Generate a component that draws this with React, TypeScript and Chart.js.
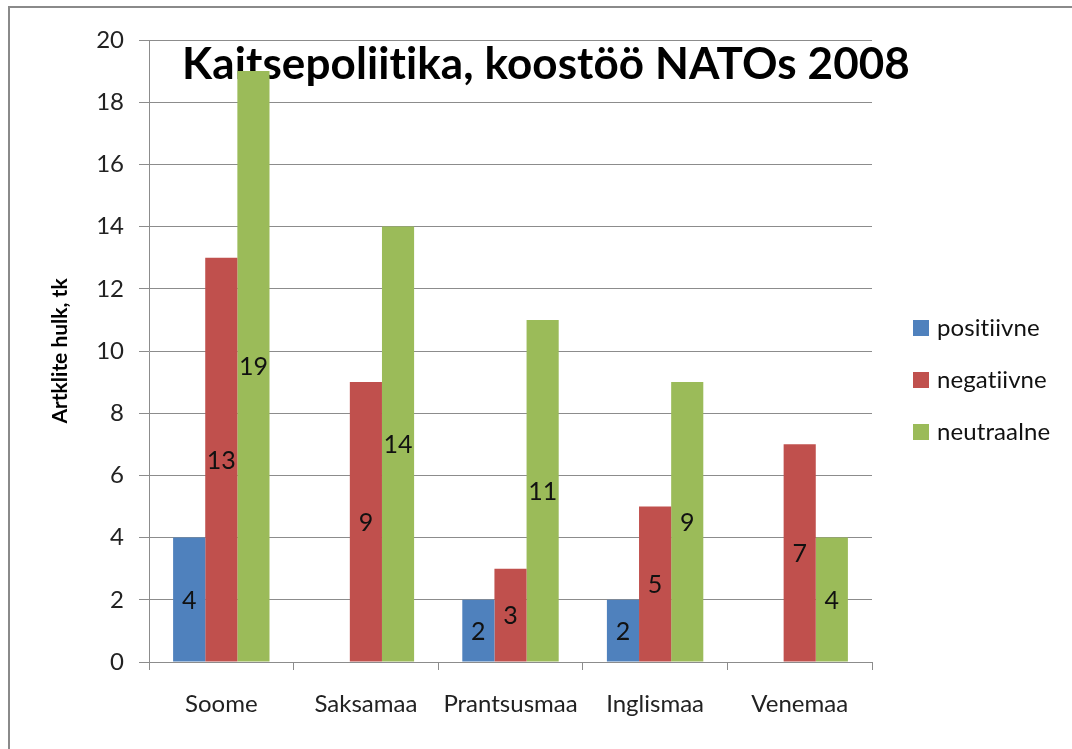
import React, { useEffect, useRef } from "react";
import { Chart, registerables } from "chart.js";

Chart.register(...registerables);

const categories = ["Soome", "Saksamaa", "Prantsusmaa", "Inglismaa", "Venemaa"];
const positiivne = [4, 0, 2, 2, 0];
const negatiivne = [13, 9, 3, 5, 7];
const neutraalne = [19, 14, 11, 9, 4];
const seriesNames = ["positiivne", "negatiivne", "neutraalne"];
const seriesColors = ["#4F81BD", "#C0504D", "#9BBB59"];
const yMin = 0;
const yMax = 20;
const yStep = 2;
const titleText = "Kaitsepoliitika, koostöö NATOs 2008";
const yTitle = "Artklite hulk, tk";

const FONT = "Lato, Carlito, 'Open Sans', sans-serif";
const GRID = "#8c8c8c";

const titlePlugin = {
  id: "overTitle",
  beforeDatasetsDraw(chart: any) {
    const ctx = chart.ctx;
    ctx.save();
    ctx.font = `bold 44px ${FONT}`;
    (ctx as any).letterSpacing = "0.1px";
    ctx.fillStyle = "#000";
    ctx.textAlign = "center";
    ctx.textBaseline = "alphabetic";
    ctx.fillText(titleText, 536, 71);
    ctx.restore();
  },
};

const valueLabels = {
  id: "valueLabels",
  afterDatasetsDraw(chart: any) {
    const ctx = chart.ctx;
    ctx.save();
    ctx.font = `25px ${FONT}`;
    ctx.fillStyle = "#111";
    ctx.textAlign = "center";
    ctx.textBaseline = "middle";
    chart.data.datasets.forEach((ds: any, i: number) => {
      const meta = chart.getDatasetMeta(i);
      meta.data.forEach((el: any, j: number) => {
        const v = ds.data[j];
        if (!v) return;
        ctx.fillText(String(v), el.x, (el.y + el.base) / 2 + 1);
      });
    });
    ctx.restore();
  },
};

const sideLegend = {
  id: "sideLegend",
  afterDraw(chart: any) {
    const ctx = chart.ctx;
    ctx.save();
    ctx.font = `24px ${FONT}`;
    (ctx as any).letterSpacing = "0.1px";
    ctx.textAlign = "left";
    ctx.textBaseline = "middle";
    chart.data.datasets.forEach((ds: any, i: number) => {
      const y = 320 + i * 52;
      ctx.fillStyle = ds.backgroundColor;
      ctx.fillRect(903, y - 8, 16, 16);
      ctx.fillStyle = "#111";
      ctx.fillText(ds.label, 927, y);
    });
    ctx.restore();
  },
};

function ChartView() {
  const ref = useRef<HTMLCanvasElement | null>(null);
  useEffect(() => {
    if (!ref.current) return;
    const series = [positiivne, negatiivne, neutraalne];
    const chart = new Chart(ref.current, {
      type: "bar",
      data: {
        labels: categories,
        datasets: series.map((d, i) => ({
          label: seriesNames[i],
          data: d,
          backgroundColor: seriesColors[i],
          borderWidth: 0,
          categoryPercentage: 3 / 4.5,
          barPercentage: 1,
        })),
      },
      options: {
        responsive: false,
        animation: false,
        layout: { padding: { top: 32, right: 200, left: 0, bottom: 0 } },
        plugins: {
          legend: { display: false },
          tooltip: { enabled: false },
          title: { display: false },
        },
        scales: {
          x: {
            grid: {
              display: true,
              drawOnChartArea: false,
              drawTicks: true,
              tickLength: 8,
              color: GRID,
              offset: true,
            },
            border: { color: GRID, width: 1 },
            ticks: { font: { family: FONT, size: 24 }, color: "#222", padding: 20 },
            afterFit: (s: any) => {
              s.height = 87;
            },
          },
          y: {
            min: yMin,
            max: yMax,
            ticks: { stepSize: yStep, font: { family: FONT, size: 24 }, color: "#222", padding: 15 },
            grid: { color: GRID, tickLength: 10 },
            border: { color: GRID, width: 1 },
            title: {
              display: true,
              text: yTitle,
              font: { family: FONT, size: 21, weight: "bold" },
              color: "#000",
              padding: { top: 38, bottom: 0 },
            },
            afterFit: (s: any) => {
              s.width = 139;
            },
          },
        },
      },
      plugins: [titlePlugin, valueLabels, sideLegend],
    } as any);
    return () => chart.destroy();
  }, []);
  return <canvas ref={ref} width={1062} height={741} style={{ display: "block" }} />;
}

export default function App() {
  return (
    <div style={{ position: "fixed", inset: 0, overflow: "hidden", background: "#fff" }}>
      <div
        style={{
          position: "absolute",
          left: 8,
          top: 6,
          width: 1080,
          height: 780,
          border: "2px solid #8a8a8a",
          background: "#fff",
        }}
      >
        <ChartView />
      </div>
    </div>
  );
}
